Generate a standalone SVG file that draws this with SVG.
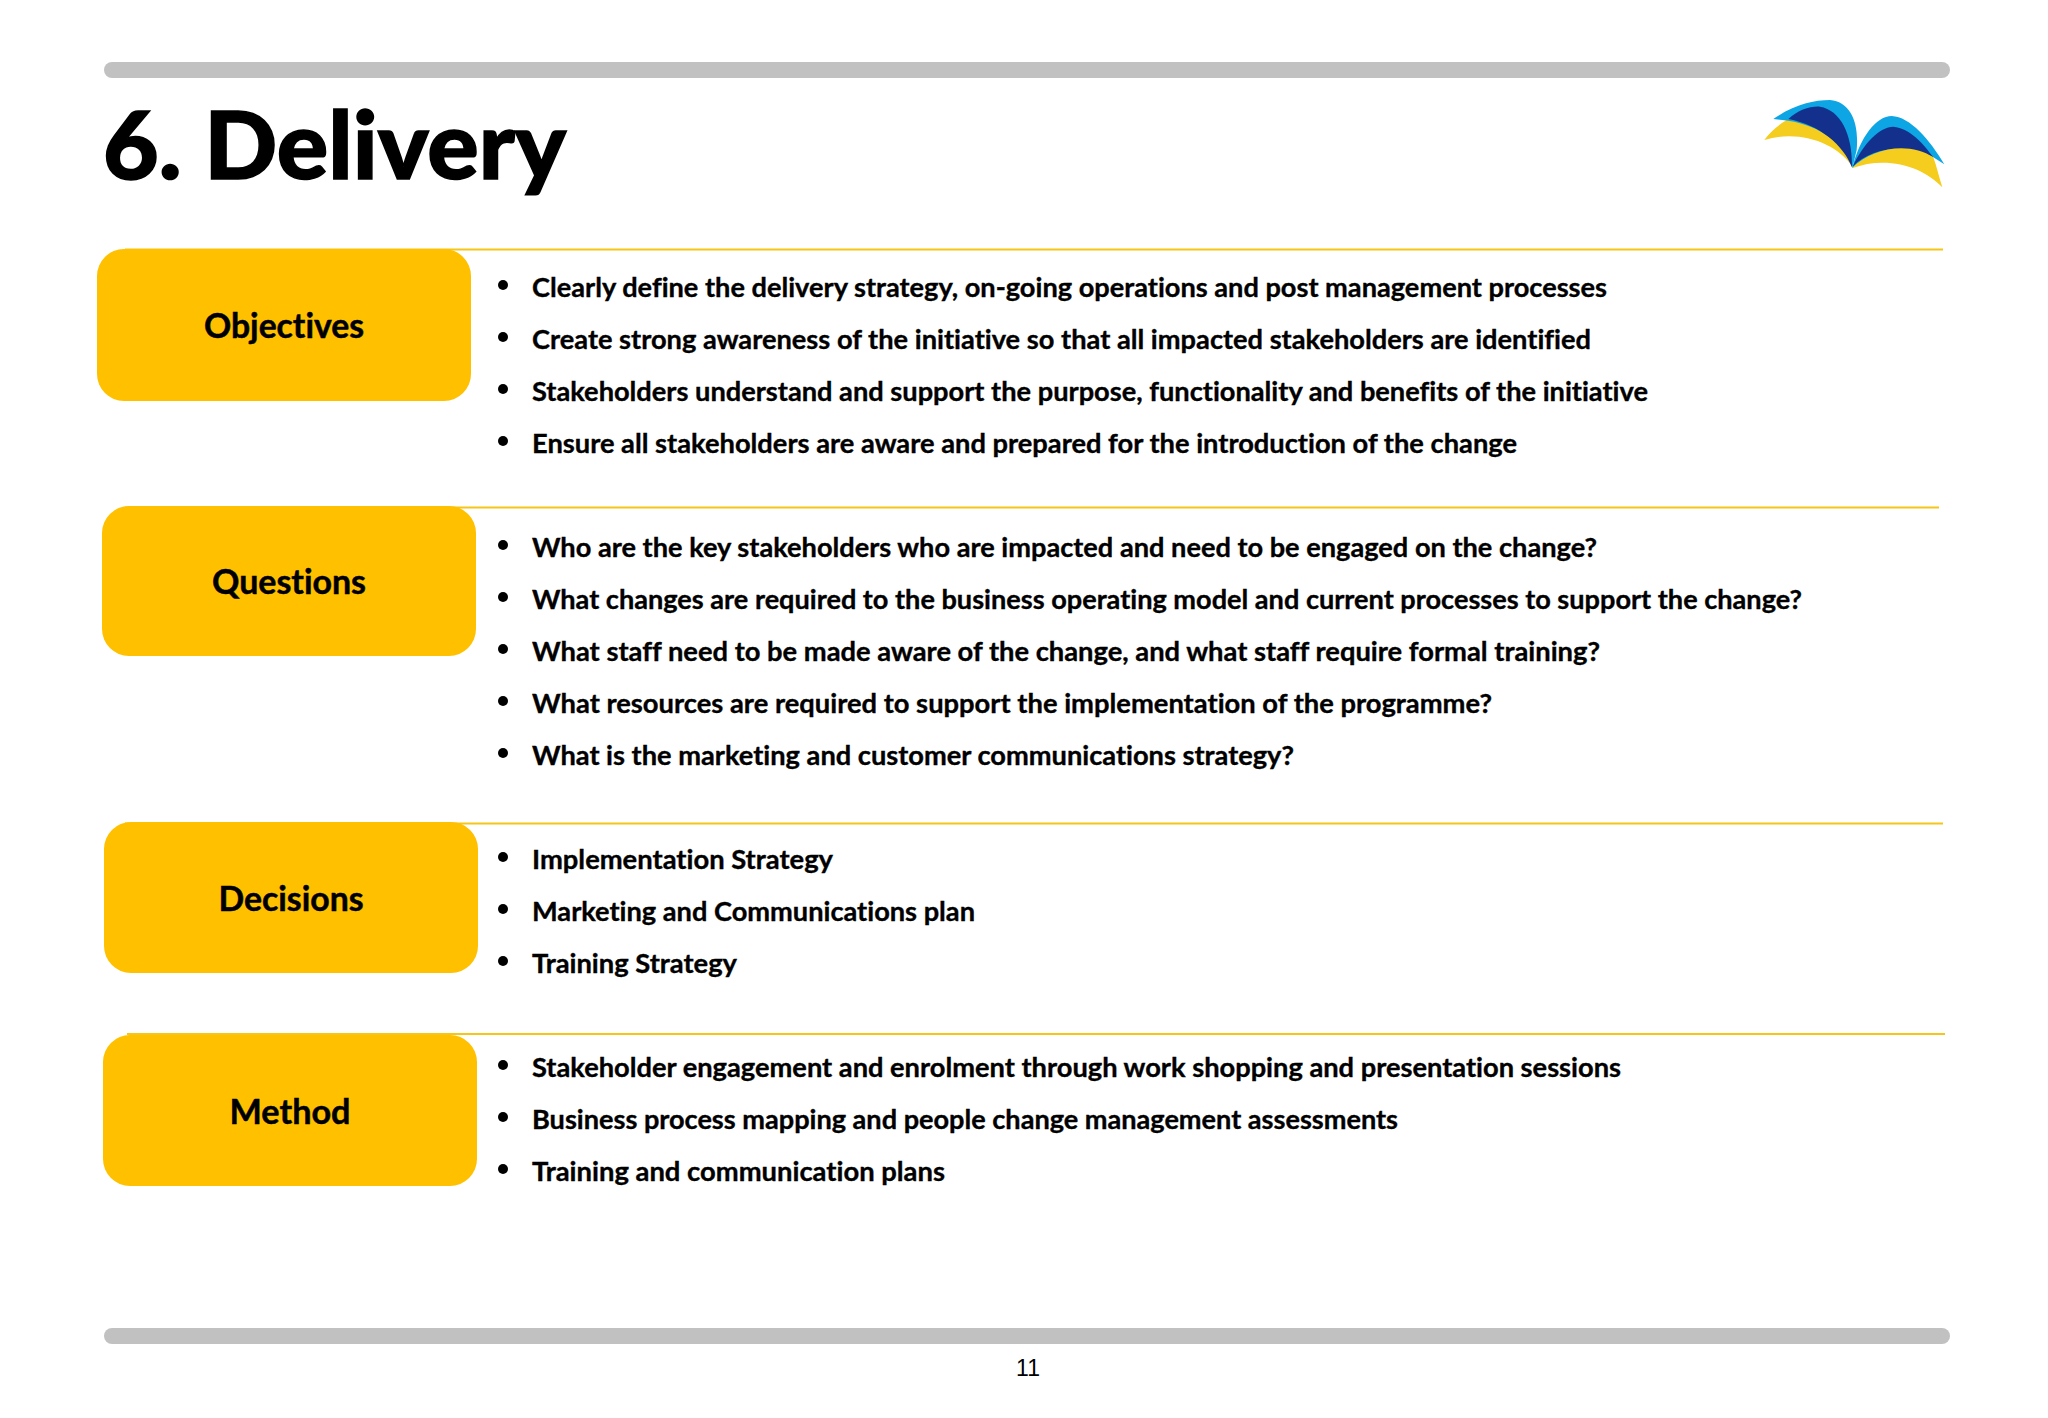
<svg xmlns="http://www.w3.org/2000/svg" width="2048" height="1418" viewBox="0 0 2048 1418">
<style>
.bar{fill:#c1c1c1}
.rule{stroke:#f5c518;stroke-width:2;fill:none}
.box{fill:#ffc000}
text{font-variant-ligatures:none}
.lab{font-family:"Lato","Carlito","Liberation Sans",sans-serif;font-weight:700;font-size:34px;fill:#000;stroke:#000;stroke-width:.5px;text-anchor:middle}
.t{font-family:"Lato","Carlito","Liberation Sans",sans-serif;font-weight:700;font-size:26.5px;fill:#000;stroke:#000;stroke-width:.35px}
.b{fill:#000}
</style>
<rect width="2048" height="1418" fill="#fff"/>
<rect class="bar" x="104" y="62" width="1846" height="16" rx="8"/>
<rect class="bar" x="104" y="1328" width="1846" height="16" rx="8"/>
<text id="title" x="103" y="179" textLength="463" lengthAdjust="spacingAndGlyphs" style="font-family:'Lato','Carlito','Liberation Sans',sans-serif;font-weight:900;font-size:94px;fill:#000;stroke:#000;stroke-width:1.5px">6. Delivery</text>
<g id="logo" transform="translate(1720 50) scale(.33333)">
<path fill="#f4cd1e" d="M133,270C150,245 175,225 200,210C290,218 375,265 397,350C350,280 240,238 133,270Z"/>
<path fill="#0ea5e4" d="M160,207C220,165 280,150 330,150C390,155 418,215 410,300L397,355C385,290 300,225 205,212Z"/>
<path fill="#12308c" d="M205,207C235,180 270,168 300,170C360,180 398,250 396,352C370,285 300,225 205,207Z"/>
<path fill="#0ea5e4" d="M397,355C420,260 470,198 515,198C570,200 630,270 673,343L640,322C570,285 460,290 397,355Z"/>
<path fill="#12308c" d="M398,350C430,280 480,230 520,230C570,235 610,280 640,322C570,285 460,285 398,350Z"/>
<path fill="#f4cd1e" d="M395,355C460,290 570,275 640,322C650,350 658,385 667,412C610,350 500,315 395,355Z"/>
</g>
<g id="connectors">
<path class="rule" d="M125 249.500H1943"/>
<path class="rule" d="M125 507.500H1939"/>
<path class="rule" d="M125 823.500H1943"/>
<path class="rule" d="M127 1034H1945"/>
</g>
<g id="objectives">
<rect class="box" x="97" y="249" width="374" height="152" rx="27"/>
<text class="lab" x="284" y="338" textLength="160" lengthAdjust="spacingAndGlyphs">Objectives</text>
<circle class="b" cx="503" cy="285" r="5"/><text class="t" x="532" y="297" textLength="1075" lengthAdjust="spacingAndGlyphs">Clearly define the delivery strategy, on-going operations and post management processes</text>
<circle class="b" cx="503" cy="337" r="5"/><text class="t" x="532" y="349" textLength="1059" lengthAdjust="spacingAndGlyphs">Create strong awareness of the initiative so that all impacted stakeholders are identified</text>
<circle class="b" cx="503" cy="389" r="5"/><text class="t" x="532" y="401" textLength="1116" lengthAdjust="spacingAndGlyphs">Stakeholders understand and support the purpose, functionality and benefits of the initiative</text>
<circle class="b" cx="503" cy="441" r="5"/><text class="t" x="532" y="453" textLength="985" lengthAdjust="spacingAndGlyphs">Ensure all stakeholders are aware and prepared for the introduction of the change</text>
</g>
<g id="questions">
<rect class="box" x="102" y="506" width="374" height="150" rx="27"/>
<text class="lab" x="289" y="594" textLength="154" lengthAdjust="spacingAndGlyphs">Questions</text>
<circle class="b" cx="503" cy="545" r="5"/><text class="t" x="532" y="557" textLength="1065" lengthAdjust="spacingAndGlyphs">Who are the key stakeholders who are impacted and need to be engaged on the change?</text>
<circle class="b" cx="503" cy="597" r="5"/><text class="t" x="532" y="609" textLength="1270" lengthAdjust="spacingAndGlyphs">What changes are required to the business operating model and current processes to support the change?</text>
<circle class="b" cx="503" cy="649" r="5"/><text class="t" x="532" y="661" textLength="1068" lengthAdjust="spacingAndGlyphs">What staff need to be made aware of the change, and what staff require formal training?</text>
<circle class="b" cx="503" cy="701" r="5"/><text class="t" x="532" y="713" textLength="960" lengthAdjust="spacingAndGlyphs">What resources are required to support the implementation of the programme?</text>
<circle class="b" cx="503" cy="753" r="5"/><text class="t" x="532" y="765" textLength="762" lengthAdjust="spacingAndGlyphs">What is the marketing and customer communications strategy?</text>
</g>
<g id="decisions">
<rect class="box" x="104" y="822" width="374" height="151" rx="27"/>
<text class="lab" x="291" y="911" textLength="145" lengthAdjust="spacingAndGlyphs">Decisions</text>
<circle class="b" cx="503" cy="857" r="5"/><text class="t" x="532" y="869" textLength="301" lengthAdjust="spacingAndGlyphs">Implementation Strategy</text>
<circle class="b" cx="503" cy="909" r="5"/><text class="t" x="532" y="921" textLength="443" lengthAdjust="spacingAndGlyphs">Marketing and Communications plan</text>
<circle class="b" cx="503" cy="961" r="5"/><text class="t" x="532" y="973" textLength="205" lengthAdjust="spacingAndGlyphs">Training Strategy</text>
</g>
<g id="method">
<rect class="box" x="103" y="1035" width="374" height="151" rx="27"/>
<text class="lab" x="290" y="1124" textLength="121" lengthAdjust="spacingAndGlyphs">Method</text>
<circle class="b" cx="503" cy="1065" r="5"/><text class="t" x="532" y="1077" textLength="1089" lengthAdjust="spacingAndGlyphs">Stakeholder engagement and enrolment through work shopping and presentation sessions</text>
<circle class="b" cx="503" cy="1117" r="5"/><text class="t" x="532" y="1129" textLength="866" lengthAdjust="spacingAndGlyphs">Business process mapping and people change management assessments</text>
<circle class="b" cx="503" cy="1169" r="5"/><text class="t" x="532" y="1181" textLength="413" lengthAdjust="spacingAndGlyphs">Training and communication plans</text>
</g>
<text id="page" x="1028" y="1376" text-anchor="middle" style="font-family:'Liberation Sans',sans-serif;font-size:23px;fill:#000">11</text>
</svg>
